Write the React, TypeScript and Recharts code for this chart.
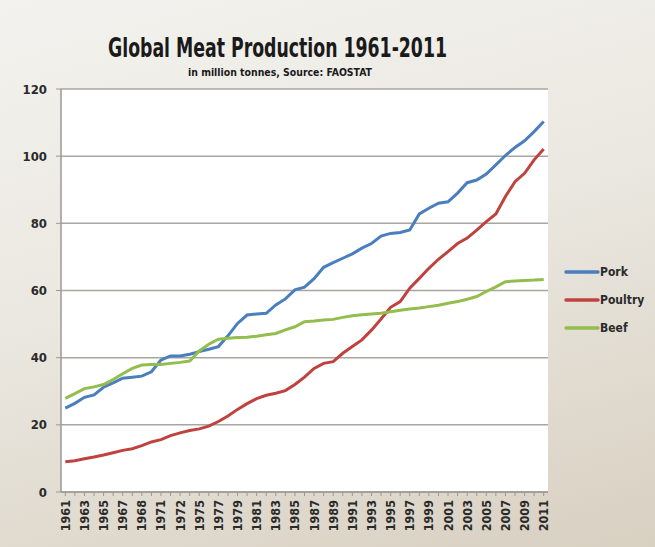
import React from 'react';
import { LineChart, Line, XAxis, YAxis, CartesianGrid, Legend } from 'recharts';

const years = [
  1961, 1962, 1963, 1964, 1965, 1966, 1967, 1968, 1969, 1970,
  1971, 1972, 1973, 1974, 1975, 1976, 1977, 1978, 1979, 1980,
  1981, 1982, 1983, 1984, 1985, 1986, 1987, 1988, 1989, 1990,
  1991, 1992, 1993, 1994, 1995, 1996, 1997, 1998, 1999, 2000,
  2001, 2002, 2003, 2004, 2005, 2006, 2007, 2008, 2009, 2010, 2011,
];

const pork = [
  25.0, 26.4, 28.2, 28.9, 31.2, 32.5, 33.9, 34.2, 34.5, 35.8,
  39.3, 40.5, 40.5, 41.0, 41.8, 42.5, 43.3, 46.5, 50.2, 52.7,
  53.0, 53.2, 55.7, 57.5, 60.2, 61.0, 63.5, 66.9, 68.3, 69.6,
  70.9, 72.6, 74.0, 76.2, 77.0, 77.3, 78.0, 82.8, 84.5, 86.0,
  86.4, 89.0, 92.1, 92.9, 94.7, 97.4, 100.2, 102.6, 104.6, 107.3, 110.3,
];

const poultry = [
  9.0, 9.3, 9.9, 10.4, 11.0, 11.7, 12.4, 12.9, 13.8, 14.9,
  15.6, 16.8, 17.6, 18.3, 18.8, 19.6, 21.0, 22.6, 24.6, 26.3,
  27.8, 28.8, 29.4, 30.2, 32.0, 34.2, 36.8, 38.3, 38.8, 41.3,
  43.3, 45.3, 48.2, 51.5, 55.0, 56.7, 60.7, 63.6, 66.6, 69.3,
  71.6, 74.0, 75.6, 78.0, 80.5, 82.8, 88.0, 92.4, 94.9, 98.9, 102.1,
];

const beef = [
  27.9, 29.3, 30.8, 31.3, 32.0, 33.5, 35.2, 36.8, 37.8, 38.0,
  38.0, 38.3, 38.6, 39.0, 42.0, 44.0, 45.5, 45.8, 46.0, 46.1,
  46.4, 46.8, 47.2, 48.3, 49.2, 50.7, 50.9, 51.2, 51.4, 52.0,
  52.5, 52.8, 53.0, 53.2, 53.7, 54.1, 54.5, 54.8, 55.2, 55.6,
  56.2, 56.7, 57.4, 58.2, 59.7, 61.1, 62.6, 62.8, 63.0, 63.1, 63.3,
];

const xTickLabels = [
  '1961', '1963', '1965', '1967', '1968', '1971', '1972', '1975', '1977',
  '1979', '1981', '1983', '1985', '1987', '1989', '1991', '1993', '1995',
  '1997', '1999', '2001', '2003', '2005', '2007', '2009', '2011',
];

const yTicks = [0, 20, 40, 60, 80, 100, 120];

const seriesNames = ['Pork', 'Poultry', 'Beef'];
const seriesColors = ['#4a7ebf', '#c0423f', '#93bd4c'];

const data = years.map((y, i) => ({
  year: y,
  pork: pork[i],
  poultry: poultry[i],
  beef: beef[i],
}));

const FONT = '"Liberation Sans Narrow", "DejaVu Sans Condensed", Arial, sans-serif';

const XTick = (props: any) => {
  const { x, y, payload } = props;
  const idx = payload.index;
  if (idx % 2 !== 0) return null;
  const label = xTickLabels[idx / 2];
  return (
    <text
      x={x}
      y={y}
      dy="0.36em"
      transform={`rotate(-90, ${x}, ${y})`}
      textAnchor="end"
      fontFamily={FONT}
      fontSize={12.5}
      fontWeight="bold"
      fill="#2a2a2a"
    >
      {label}
    </text>
  );
};

const renderLegend = (props: any) => {
  const payload = [...(props.payload || [])].sort(
    (a: any, b: any) => seriesNames.indexOf(a.value) - seriesNames.indexOf(b.value)
  );
  return (
    <div>
      {payload.map((e: any) => (
        <div
          key={e.value}
          style={{ display: 'flex', alignItems: 'center', height: 28 }}
        >
          <svg width={36} height={8} style={{ display: 'block' }}>
            <line x1={2} x2={34} y1={4} y2={4} stroke={e.color} strokeWidth={3.5} strokeLinecap="round" />
          </svg>
          <span
            style={{
              fontFamily: FONT,
              fontSize: 12,
              fontWeight: 'bold',
              color: '#2a2a2a',
            }}
          >
            {e.value}
          </span>
        </div>
      ))}
    </div>
  );
};

export default function App() {
  return (
    <div
      style={{
        position: 'absolute',
        left: 0,
        top: 0,
        width: 655,
        height: 547,
        background: 'linear-gradient(165deg, #f3f2ee 0%, #ebe8e1 45%, #d8d0c1 100%)',
        overflow: 'hidden',
      }}
    >
      <svg width={655} height={90} style={{ position: 'absolute', left: 0, top: 0 }}>
        <text
          x={108}
          y={57}
          textLength={339}
          lengthAdjust="spacingAndGlyphs"
          fontFamily={FONT}
          fontSize={27}
          fontWeight="bold"
          fill="#1a1a1a"
        >
          Global Meat Production 1961-2011
        </text>
        <text
          x={188}
          y={76}
          textLength={184}
          lengthAdjust="spacingAndGlyphs"
          fontFamily={FONT}
          fontSize={11}
          fontWeight="bold"
          fill="#1a1a1a"
        >
          in million tonnes, Source: FAOSTAT
        </text>
      </svg>
      <LineChart
        width={655}
        height={547}
        data={data}
        margin={{ top: 89, right: 107, bottom: 0, left: 0 }}
      >
        <CartesianGrid
          vertical={false}
          stroke="#aaa5a0"
          strokeWidth={1.5}
          fill="#ffffff"
          fillOpacity={1}
        />
        <XAxis
          dataKey="year"
          interval={0}
          height={55}
          padding={{ left: 4.3, right: 4.3 }}
          tick={<XTick />}
          tickSize={4}
          tickMargin={4}
          axisLine={{ stroke: '#9d9893', strokeWidth: 1.5 }}
          tickLine={{ stroke: '#9d9893' }}
        />
        <YAxis
          domain={[0, 120]}
          ticks={yTicks}
          width={61}
          tickSize={5}
          tickMargin={9}
          axisLine={{ stroke: '#9d9893', strokeWidth: 1.5 }}
          tickLine={{ stroke: '#9d9893' }}
          tick={{ fontFamily: FONT, fontSize: 13, fontWeight: 'bold', fill: '#2a2a2a' }}
        />
        <Legend
          layout="vertical"
          align="center"
          verticalAlign="middle"
          content={renderLegend}
          wrapperStyle={{ position: 'absolute', left: 564, top: 258, width: 90 }}
        />
        <Line dataKey="pork" name={seriesNames[0]} stroke={seriesColors[0]} strokeWidth={3} dot={false} isAnimationActive={false} />
        <Line dataKey="poultry" name={seriesNames[1]} stroke={seriesColors[1]} strokeWidth={3} dot={false} isAnimationActive={false} />
        <Line dataKey="beef" name={seriesNames[2]} stroke={seriesColors[2]} strokeWidth={3} dot={false} isAnimationActive={false} />
      </LineChart>
    </div>
  );
}
